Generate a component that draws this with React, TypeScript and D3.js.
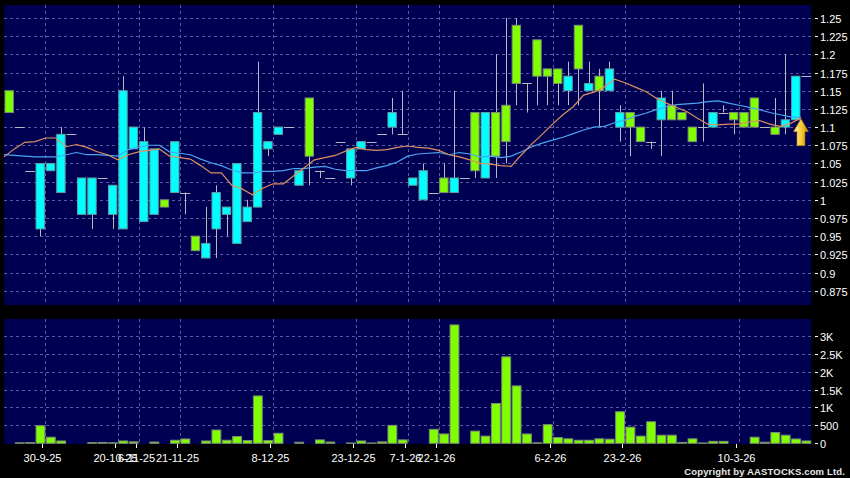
import * as React from 'react';
import * as d3 from 'd3';

// daily bars, oldest first
const opens = [
    1.15, 1.10, 1.04, 0.96, 1.04, 1.01, 1.09, 0.98, 0.98, 1.03,
    0.98, 0.96, 1.07, 0.97, 0.98, 1.00, 1.01, 1.01, 0.95, 0.92,
    0.96, 0.98, 0.94, 0.97, 0.99, 1.07, 1.09, 1.10, 1.02, 1.14,
    1.04, 1.03, 1.08, 1.03, 1.07, 1.08, 1.09, 1.10, 1.09, 1.02,
    1.00, 1.01, 1.03, 1.01, 1.03, 1.12, 1.03, 1.12, 1.13, 1.24,
    1.16, 1.22, 1.18, 1.18, 1.15, 1.24, 1.15, 1.17, 1.15, 1.10,
    1.12, 1.10, 1.08, 1.11, 1.13, 1.12, 1.10, 1.10, 1.10, 1.12,
    1.12, 1.12, 1.14, 1.10, 1.10, 1.10, 1.11, 1.17
];
const highs = [
    1.15, 1.10, 1.04, 1.05, 1.05, 1.10, 1.09, 1.03, 1.03, 1.03,
    1.02, 1.17, 1.10, 1.10, 1.07, 1.00, 1.08, 1.01, 0.95, 0.99,
    1.02, 0.99, 1.05, 1.00, 1.19, 1.08, 1.10, 1.10, 1.04, 1.14,
    1.04, 1.03, 1.08, 1.07, 1.08, 1.08, 1.09, 1.14, 1.15, 1.03,
    1.05, 1.01, 1.05, 1.15, 1.03, 1.12, 1.12, 1.20, 1.25, 1.25,
    1.16, 1.22, 1.18, 1.18, 1.19, 1.24, 1.19, 1.18, 1.19, 1.13,
    1.12, 1.10, 1.08, 1.15, 1.15, 1.12, 1.10, 1.16, 1.12, 1.13,
    1.12, 1.12, 1.14, 1.10, 1.14, 1.20, 1.17, 1.17
];
const lows = [
    1.12, 1.10, 1.04, 0.95, 1.04, 1.01, 1.09, 0.98, 0.96, 1.03,
    0.96, 0.96, 1.07, 0.97, 0.98, 0.99, 1.01, 0.98, 0.93, 0.92,
    0.92, 0.95, 0.94, 0.97, 0.99, 1.06, 1.09, 1.10, 1.02, 1.02,
    1.03, 1.03, 1.08, 1.02, 1.07, 1.08, 1.09, 1.09, 1.09, 1.02,
    1.00, 1.01, 1.01, 1.01, 1.03, 1.03, 1.03, 1.03, 1.05, 1.13,
    1.12, 1.13, 1.13, 1.13, 1.13, 1.13, 1.15, 1.10, 1.15, 1.08,
    1.06, 1.08, 1.07, 1.06, 1.11, 1.11, 1.08, 1.08, 1.10, 1.12,
    1.09, 1.10, 1.10, 1.10, 1.09, 1.09, 1.11, 1.17
];
const closes = [
    1.12, 1.10, 1.04, 1.05, 1.05, 1.09, 1.09, 1.03, 1.03, 1.03,
    1.02, 1.15, 1.10, 1.08, 1.07, 0.99, 1.08, 1.01, 0.93, 0.94,
    1.01, 0.99, 1.05, 0.99, 1.12, 1.08, 1.10, 1.10, 1.04, 1.06,
    1.04, 1.03, 1.08, 1.07, 1.08, 1.08, 1.09, 1.12, 1.09, 1.03,
    1.04, 1.01, 1.01, 1.03, 1.03, 1.04, 1.12, 1.06, 1.08, 1.16,
    1.16, 1.17, 1.17, 1.16, 1.17, 1.18, 1.16, 1.15, 1.18, 1.12,
    1.10, 1.08, 1.08, 1.14, 1.11, 1.11, 1.08, 1.10, 1.12, 1.12,
    1.11, 1.10, 1.10, 1.10, 1.09, 1.11, 1.17, 1.17
];
const volumes = [
    0, 15, 20, 490, 170, 65, 0, 0, 20, 25,
    15, 65, 40, 0, 35, 0, 85, 120, 0, 65,
    370, 85, 190, 75, 1320, 75, 280, 0, 30, 0,
    95, 35, 0, 10, 65, 10, 40, 500, 95, 0,
    0, 390, 260, 3300, 0, 340, 200, 1110, 2410, 1600,
    260, 15, 520, 160, 125, 85, 85, 125, 115, 880,
    450, 200, 600, 225, 225, 25, 125, 10, 55, 55,
    0, 0, 170, 30, 300, 225, 120, 65
];
// moving averages as plotted
const maShort = [
    1.059, 1.070, 1.079, 1.080, 1.085, 1.085, 1.073, 1.076, 1.072, 1.066,
    1.062, 1.055, 1.062, 1.066, 1.068, 1.070, 1.060, 1.058, 1.056, 1.047,
    1.037, 1.037, 1.020, 1.015, 1.007, 1.016, 1.022, 1.022, 1.033, 1.044,
    1.055, 1.058, 1.061, 1.067, 1.072, 1.069, 1.068, 1.069, 1.072, 1.074,
    1.072, 1.071, 1.068, 1.062, 1.059, 1.055, 1.050, 1.049, 1.047, 1.046,
    1.062, 1.077, 1.090, 1.104, 1.117, 1.128, 1.144, 1.148, 1.155, 1.166,
    1.161, 1.155, 1.149, 1.140, 1.133, 1.127, 1.121, 1.112, 1.104, 1.103,
    1.104, 1.104, 1.107, 1.109, 1.104, 1.101, 1.105, 1.113
];
const maLong = [
    1.062, 1.061, 1.060, 1.059, 1.059, 1.059, 1.062, 1.065, 1.062, 1.062,
    1.061, 1.060, 1.069, 1.072, 1.075, 1.075, 1.066, 1.064, 1.062, 1.056,
    1.051, 1.047, 1.041, 1.037, 1.037, 1.039, 1.039, 1.040, 1.043, 1.043,
    1.045, 1.046, 1.042, 1.040, 1.040, 1.040, 1.044, 1.047, 1.052, 1.060,
    1.063, 1.064, 1.065, 1.062, 1.065, 1.063, 1.059, 1.060, 1.058, 1.060,
    1.066, 1.073, 1.078, 1.082, 1.086, 1.091, 1.096, 1.100, 1.101, 1.106,
    1.110, 1.115, 1.119, 1.124, 1.128, 1.131, 1.132, 1.133, 1.135, 1.136,
    1.133, 1.130, 1.127, 1.124, 1.120, 1.117, 1.114, 1.113
];

const dateTicks = [4, 11, 13, 17, 26, 34, 39, 42, 53, 60, 71];
const dateLabels = ['30-9-25', '20-10-25', '6-11-25', '21-11-25', '8-12-25', '23-12-25',
    '7-1-26', '22-1-26', '6-2-26', '23-2-26', '10-3-26'];
const priceTicks = [0.875, 0.9, 0.925, 0.95, 0.975, 1, 1.025, 1.05, 1.075, 1.1,
    1.125, 1.15, 1.175, 1.2, 1.225, 1.25];
const volumeTicks = [0, 500, 1000, 1500, 2000, 2500, 3000];
const volumeLabels = ['0', '500', '1K', '1.5K', '2K', '2.5K', '3K'];

const FONT = '"Liberation Sans", Arial, sans-serif';
const UP = '#00ffff';
const DOWN = '#80ff00';
const WICK = '#b8b8c0';

export default class App extends React.PureComponent<{}, {}> {

    svg: SVGSVGElement | null = null;

    componentDidMount() {
        document.body.style.margin = '0';
        document.body.style.background = '#000';
        this._draw();
    }

    _draw() {
        let width = 850, height = 478;
        let left = 4, right = 811.3;
        let main = { top: 5, bottom: 305 };
        let vol = { top: 319, bottom: 444 };

        let svg = d3.select(this.svg)
            .attr('width', width)
            .attr('height', height);
        svg.selectAll('*').remove();

        svg.append('rect').attr('width', width).attr('height', height).attr('fill', '#000');

        let xScale = d3.scaleBand<number>()
            .domain(d3.range(closes.length))
            .range([left, right]);
        let bw = xScale.bandwidth();

        let yScale = d3.scaleLinear().domain([0.875, 1.25]).range([290.7, 18]);
        let vScale = d3.scaleLinear().domain([0, 3000]).range([443.3, 335.7]);

        // panels
        [main, vol].forEach((p) => {
            svg.append('rect')
                .attr('x', left).attr('y', p.top)
                .attr('width', right - left).attr('height', p.bottom - p.top)
                .attr('fill', '#000052');
        });

        let grid = svg.append('g')
            .attr('stroke', '#5a5aa0')
            .attr('stroke-width', 1)
            .attr('stroke-dasharray', '3,3');

        grid.selectAll('.hp').data(priceTicks).enter().append('line')
            .attr('x1', left).attr('x2', right)
            .attr('y1', (d) => Math.round(yScale(d)) + 0.5)
            .attr('y2', (d) => Math.round(yScale(d)) + 0.5);
        grid.selectAll('.hv').data(volumeTicks.slice(1)).enter().append('line')
            .attr('x1', left).attr('x2', right)
            .attr('y1', (d) => Math.round(vScale(d)) + 0.5)
            .attr('y2', (d) => Math.round(vScale(d)) + 0.5);
        [main, vol].forEach((p) => {
            grid.append('g').selectAll('line').data(dateTicks).enter().append('line')
                .attr('x1', (d) => Math.round(xScale(d)) + 0.5)
                .attr('x2', (d) => Math.round(xScale(d)) + 0.5)
                .attr('y1', p.top).attr('y2', p.bottom);
        });

        // candles
        let idx = d3.range(closes.length);
        let candles = svg.append('g');
        let cx = (i: number) => Math.round(xScale(i) + bw / 2) + 0.5;

        candles.selectAll('.wick').data(idx.filter((i) => highs[i] > lows[i])).enter()
            .append('line')
            .attr('x1', cx).attr('x2', cx)
            .attr('y1', (i) => yScale(highs[i]))
            .attr('y2', (i) => yScale(lows[i]))
            .attr('stroke', WICK).attr('stroke-width', 1);

        candles.selectAll('.doji').data(idx.filter((i) => opens[i] === closes[i])).enter()
            .append('line')
            .attr('x1', (i) => xScale(i) + 0.5)
            .attr('x2', (i) => xScale(i) + bw)
            .attr('y1', (i) => Math.round(yScale(closes[i])) + 0.5)
            .attr('y2', (i) => Math.round(yScale(closes[i])) + 0.5)
            .attr('stroke', WICK).attr('stroke-width', 1);

        candles.selectAll('.body').data(idx.filter((i) => opens[i] !== closes[i])).enter()
            .append('rect')
            .attr('x', (i) => xScale(i) + 1)
            .attr('width', bw - 2)
            .attr('y', (i) => yScale(Math.max(opens[i], closes[i])))
            .attr('height', (i) => Math.abs(yScale(opens[i]) - yScale(closes[i])))
            .attr('fill', (i) => closes[i] > opens[i] ? UP : DOWN)
            .attr('stroke', (i) => closes[i] > opens[i] ? '#5e9ea4' : '#7c8c74')
            .attr('stroke-width', 1);

        // moving averages
        let line = d3.line<number>()
            .x((d, i) => xScale(i))
            .y((d) => yScale(d));
        svg.append('path').datum(maLong)
            .attr('d', line).attr('fill', 'none')
            .attr('stroke', '#4aa6f2').attr('stroke-width', 1.2);
        svg.append('path').datum(maShort)
            .attr('d', line).attr('fill', 'none')
            .attr('stroke', '#dc9060').attr('stroke-width', 1.2);

        // last price marker
        let last = closes.length - 1;
        let tipX = xScale(last);
        let tipY = yScale(maLong[last]) + 1;
        let defs = svg.append('defs');
        let grad = defs.append('linearGradient').attr('id', 'gold')
            .attr('x1', 0).attr('y1', 0).attr('x2', 1).attr('y2', 0);
        grad.append('stop').attr('offset', '0%').attr('stop-color', '#fff4a8');
        grad.append('stop').attr('offset', '55%').attr('stop-color', '#f6c832');
        grad.append('stop').attr('offset', '100%').attr('stop-color', '#c88a00');
        svg.append('path')
            .attr('d', `M${tipX},${tipY} L${tipX + 7.5},${tipY + 13} L${tipX + 4},${tipY + 13} ` +
                `L${tipX + 4},${tipY + 27} L${tipX - 4},${tipY + 27} L${tipX - 4},${tipY + 13} ` +
                `L${tipX - 7.5},${tipY + 13} Z`)
            .attr('fill', 'url(#gold)')
            .attr('stroke', '#a87000').attr('stroke-width', 0.6);

        // volume
        svg.append('g').selectAll('rect').data(idx.filter((i) => volumes[i] > 0)).enter()
            .append('rect')
            .attr('x', (i) => xScale(i) + 1)
            .attr('width', bw - 1.5)
            .attr('y', (i) => vScale(volumes[i]))
            .attr('height', (i) => vScale(0) - vScale(volumes[i]))
            .attr('fill', DOWN)
            .attr('stroke', '#7c8c74').attr('stroke-width', 1);

        // right axes
        let axisText = svg.append('g')
            .attr('font-family', FONT).attr('font-size', 11).attr('fill', '#fff');
        let tickLine = svg.append('g').attr('stroke', '#fff').attr('stroke-width', 1);

        priceTicks.forEach((t) => {
            let y = Math.round(yScale(t)) + 0.5;
            tickLine.append('line').attr('x1', 815).attr('x2', 818).attr('y1', y).attr('y2', y);
            axisText.append('text').attr('x', 820).attr('y', y + 4).text(String(t));
        });
        volumeTicks.forEach((t, k) => {
            let y = Math.round(vScale(t)) + 0.5;
            tickLine.append('line').attr('x1', 815).attr('x2', 818).attr('y1', y).attr('y2', y);
            axisText.append('text').attr('x', 820).attr('y', y + 4).text(volumeLabels[k]);
        });

        // date axis
        dateTicks.forEach((d, k) => {
            let x = Math.round(xScale(d)) - 2.5;
            tickLine.append('line').attr('x1', x).attr('x2', x).attr('y1', vol.bottom).attr('y2', vol.bottom + 4);
            axisText.append('text').attr('x', x).attr('y', 462)
                .attr('text-anchor', 'middle').text(dateLabels[k]);
        });

        svg.append('text')
            .attr('x', 845).attr('y', 475)
            .attr('text-anchor', 'end')
            .attr('font-family', FONT).attr('font-size', 9.5).attr('font-weight', 'bold')
            .attr('letter-spacing', 0.15)
            .attr('fill', '#e8e8e8')
            .text('Copyright by AASTOCKS.com Ltd.');
    }

    render() {
        return (
            <svg ref={(svg) => { this.svg = svg; }}
                style={{ display: 'block', position: 'absolute', left: 0, top: 0 }}></svg>
        );
    }
}
